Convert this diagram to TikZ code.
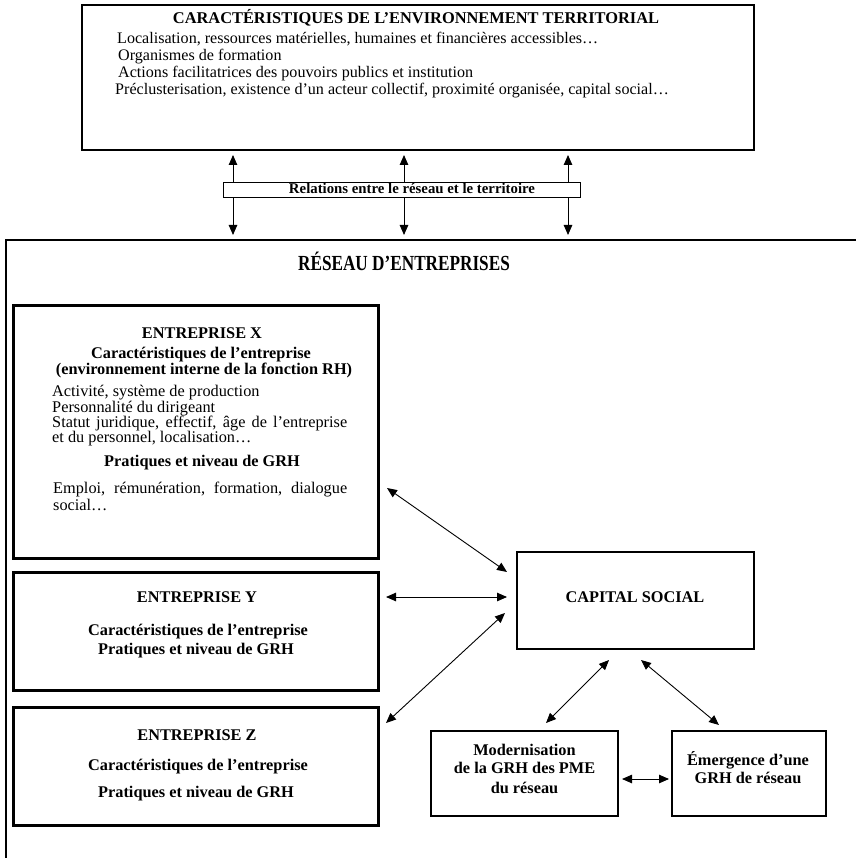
\documentclass[tikz,border=0pt]{standalone}
\usepackage{fontspec}
\setmainfont{Liberation Serif}
\usetikzlibrary{arrows.meta}
\begin{document}
\begin{tikzpicture}[x=1pt,y=-1pt,
  frame/.style={draw, line width=1.3pt, inner sep=0},
  thickbox/.style={draw, line width=3pt, inner sep=0},
  medbox/.style={draw, line width=2.4pt, inner sep=0},
  txt/.style={inner sep=0, text height=.68em, text depth=0pt},
  ent/.style={txt, font=\fontsize{16.3}{16}\selectfont},
  entb/.style={txt, font=\fontsize{16.3}{16}\selectfont\bfseries},
  terr/.style={txt, anchor=west, font=\fontsize{16.1}{17}\selectfont},
  tip/.tip={Triangle[length=10pt,width=8.5pt]},
  link/.style={line width=0.9pt, tip-tip},
  uarrow/.style={line width=0.9pt, -tip}
]
\useasboundingbox (0,0) rectangle (856,858);

% territorial environment
\node[frame, minimum width=672, minimum height=145] (terrbox) at (418,77.5) {};
\node[txt, font=\fontsize{16.4}{17}\selectfont\bfseries] (terrtitle) at (416,20) {CARACTÉRISTIQUES DE L’ENVIRONNEMENT TERRITORIAL};
\node[terr] (t1) at (117,40) {Localisation, ressources matérielles, humaines et financières accessibles…};
\node[terr] (t2) at (118,57) {Organismes de formation};
\node[terr] (t3) at (118,74) {Actions facilitatrices des pouvoirs publics et institution};
\node[terr] (t4) at (115,91) {Préclusterisation, existence d’un acteur collectif, proximité organisée, capital social…};

% relation bar
\node[draw, line width=0.8pt, inner sep=0, minimum width=357, minimum height=15] (rel) at (401.5,189.5) {};
\node[txt, font=\fontsize{14.8}{15}\selectfont\bfseries] (reltext) at (412,190) {Relations entre le réseau et le territoire};
\coordinate (u1) at (233,155);
\coordinate (u2) at (404,155);
\coordinate (u3) at (568,155);
\coordinate (d1) at (233,235);
\coordinate (d2) at (404,235);
\coordinate (d3) at (568,235);
\foreach \i in {1,2,3}{
  \draw[uarrow] (rel.north -| u\i) -- (u\i);
  \draw[uarrow] (rel.south -| d\i) -- (d\i);
}

% network frame
\coordinate (fbl) at (6,858);
\coordinate (ftl) at (6,240);
\coordinate (ftr) at (856,240);
\draw[line width=1.3pt] (fbl) -- (ftl) -- (ftr);
\node[txt, font=\fontsize{21.5}{24}\selectfont\bfseries, xscale=0.8] (restitle) at (404,267) {RÉSEAU D’ENTREPRISES};

% Entreprise X
\node[thickbox, minimum width=365, minimum height=253] (X) at (195.5,431.5) {};
\node[entb] (x1) at (202,335) {ENTREPRISE X};
\node[entb] (x2) at (201,355) {Caractéristiques de l’entreprise};
\node[entb] (x3) at (204,371) {(environnement interne de la fonction RH)};
\node[ent, anchor=west] (x4) at (52,393) {Activité, système de production};
\node[ent, anchor=west] (x5) at (52,409) {Personnalité du dirigeant};
\node[ent, anchor=west] (x6) at (52,424) {\makebox[295pt][s]{Statut juridique, effectif, âge de l’entreprise}};
\node[ent, anchor=west] (x7) at (52,439.5) {et du personnel, localisation…};
\node[entb] (x8) at (202,463) {Pratiques et niveau de GRH};
\node[ent, anchor=west] (x9) at (53,490) {\makebox[294pt][s]{Emploi, rémunération, formation, dialogue}};
\node[ent, anchor=west] (x10) at (53,507) {social…};

% Entreprise Y
\node[thickbox, minimum width=365, minimum height=118] (Y) at (195.5,631) {};
\node[entb] (y1) at (197,599) {ENTREPRISE Y};
\node[entb] (y2) at (198,632) {Caractéristiques de l’entreprise};
\node[entb] (y3) at (196,651) {Pratiques et niveau de GRH};

% Entreprise Z
\node[thickbox, minimum width=365, minimum height=118] (Z) at (195.5,766) {};
\node[entb] (z1) at (197,737) {ENTREPRISE Z};
\node[entb] (z2) at (198,767) {Caractéristiques de l’entreprise};
\node[entb] (z3) at (196,794) {Pratiques et niveau de GRH};

% Capital social and outcomes
\node[medbox, minimum width=237, minimum height=97] (cap) at (635.5,600.5) {};
\node[entb] (captext) at (635,599) {CAPITAL SOCIAL};
\node[medbox, minimum width=187, minimum height=85] (mod) at (524.5,773.5) {};
\node[entb] (m1) at (524.5,752) {Modernisation};
\node[entb] (m2) at (524.5,770) {de la GRH des PME};
\node[entb] (m3) at (524.5,790) {du réseau};
\node[medbox, minimum width=154, minimum height=85] (em) at (749,773.5) {};
\node[entb] (e1) at (748,762) {Émergence d’une};
\node[entb] (e2) at (748,780) {GRH de réseau};

% links
\coordinate (ax) at (387,488);   \coordinate (acx) at (507,572);
\coordinate (ay) at (386,597);   \coordinate (acy) at (507,597);
\coordinate (az) at (386,723);   \coordinate (acz) at (505,613);
\coordinate (acm) at (609,660);  \coordinate (am) at (546,723);
\coordinate (ace) at (641,660);  \coordinate (ae) at (719,725);
\coordinate (amr) at (622,779);  \coordinate (ael) at (669,779);
\draw[link] (ax) -- (acx);
\draw[link] (ay) -- (acy);
\draw[link] (az) -- (acz);
\draw[link] (acm) -- (am);
\draw[link] (ace) -- (ae);
\draw[link] (amr) -- (ael);
\end{tikzpicture}
\end{document}
